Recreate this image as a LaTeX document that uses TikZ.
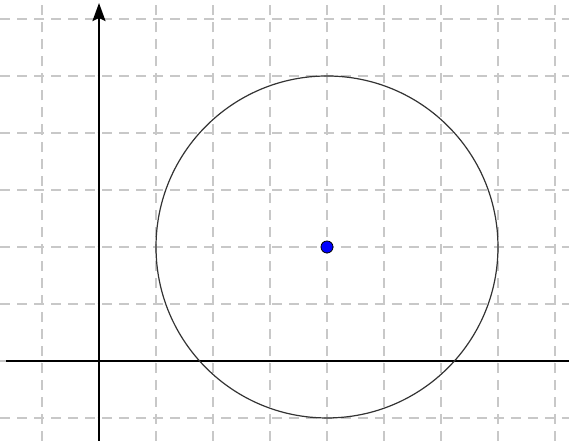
\documentclass[tikz,border=0pt]{standalone}
\usepackage{tikz}
\usetikzlibrary{arrows.meta}

\begin{document}
\begin{tikzpicture}[gridline/.style={draw={rgb,255:red,200;green,200;blue,200},line width=1pt,dash pattern=on 5pt off 3.5pt},
	axis/.style={line width=1pt,black},
	pointdot/.style={circle,fill=blue,draw=black,line width=0.4pt,inner sep=0pt,minimum size=6pt}]
	\useasboundingbox (-1.737,-1.404) rectangle (8.246,6.333);
	\foreach \x in {-1,...,8} \draw[gridline] (\x,-1.404) -- (\x,6.333);
	\foreach \y in {-1,...,6} \draw[gridline] (-1.737,\y) -- (8.246,\y);
	\coordinate (xs) at (-1.63,0);
	\coordinate (xe) at (8.246,0);
	\coordinate (ys) at (0,-1.404);
	\coordinate (ye) at (0,6.28);
	\draw[axis] (xs) -- (xe);
	\draw[axis,-{Stealth[length=9pt,width=6.5pt,inset=1.5pt]}] (ys) -- (ye);
	\foreach \x in {-1,1,2,...,8} \draw[line width=1pt] (\x,-0.025) -- (\x,0.025);
	\foreach \y in {-1,1,2,...,6} \draw[line width=1pt] (-0.025,\y) -- (0.025,\y);
	\node[pointdot] (C) at (4,2) {};
	\draw[line width=0.6pt,black!80] (C.center) circle (3);
\end{tikzpicture}
\end{document}
